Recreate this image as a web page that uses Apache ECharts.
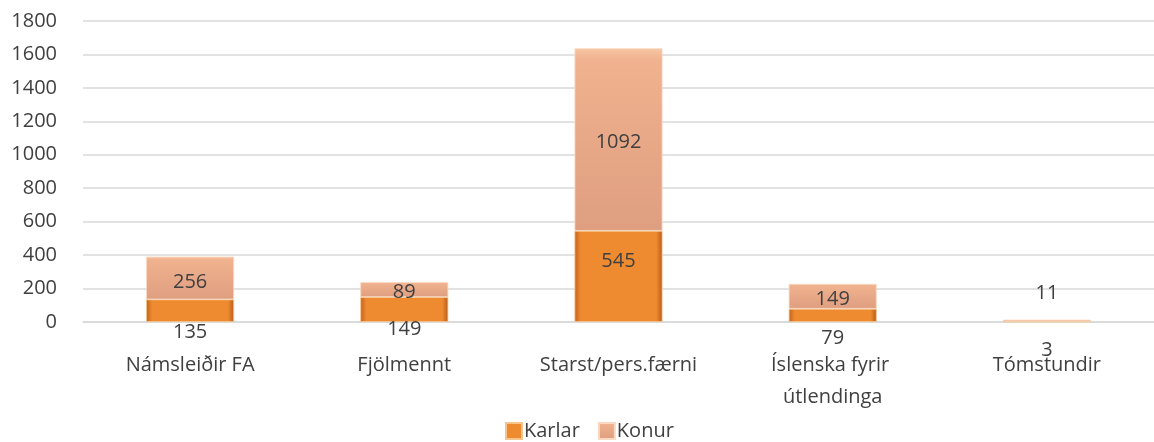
<!DOCTYPE html>
<html>
<head>
<meta charset="utf-8">
<script src="https://cdn.jsdelivr.net/npm/echarts@6/dist/echarts.min.js"></script>
<style>
  html, body { margin: 0; padding: 0; background: #fff; }
  #chart { width: 1154px; height: 442px; }
</style>
</head>
<body>
<div id="chart"></div>
<script>
  // data
  var categories = ['Námsleiðir FA', 'Fjölmennt', 'Starst/pers.færni', 'Íslenska fyrir útlendinga', 'Tómstundir'];
  var karlar = [135, 149, 545, 79, 3];
  var konur = [256, 89, 1092, 149, 11];
  var yTicks = [0, 200, 400, 600, 800, 1000, 1200, 1400, 1600, 1800];

  // where each value label sits (Excel moved the small ones out of the bar)
  var karlarLabelPos = [
    {position: 'bottom', distance: 0},
    {position: 'bottom', distance: -3},
    {position: 'inside', offset: [0, -15]},
    {position: 'bottom', distance: 6},
    {position: 'bottom', distance: 18}
  ];
  var konurLabelPos = [
    {position: 'inside', offset: [0, 4]},
    {position: 'inside', offset: [0, 3]},
    {position: 'inside', offset: [0, 3]},
    {position: 'inside', offset: [0, 3]},
    {position: 'top', distance: 16}
  ];

  var textColor = '#404040';
  var fontFamily = '"Open Sans", "DejaVu Sans", sans-serif';
  var fontSize = 20;

  var karlarFill = new echarts.graphic.LinearGradient(0, 0, 1, 0, [
    {offset: 0, color: '#C2621A'},
    {offset: 0.07, color: '#EE8B31'},
    {offset: 0.93, color: '#EE8B31'},
    {offset: 1, color: '#B65B16'}
  ]);
  var konurFill = new echarts.graphic.LinearGradient(0, 0, 0, 1, [
    {offset: 0, color: '#F6C7A6'},
    {offset: 0.06, color: '#F1B28F'},
    {offset: 1, color: '#DE9E80'}
  ]);

  var chart = echarts.init(document.getElementById('chart'));
  chart.setOption({
    animation: false,
    textStyle: {fontFamily: fontFamily},
    grid: {left: 83, top: 21, width: 1078, bottom: 120, containLabel: false},
    legend: {
      data: ['Karlar', 'Konur'],
      left: 500,
      top: 416,
      itemWidth: 16,
      itemHeight: 16,
      itemGap: 18,
      icon: 'rect',
      textStyle: {color: textColor, fontSize: fontSize, fontFamily: fontFamily, padding: [0, 0, 0, -3]}
    },
    xAxis: {
      type: 'category',
      data: categories,
      axisLine: {show: true, lineStyle: {color: '#D9D9D9', width: 1.5}},
      axisTick: {show: false},
      axisLabel: {
        color: textColor,
        fontSize: fontSize,
        fontFamily: fontFamily,
        margin: 27,
        lineHeight: 32,
        interval: 0,
        width: 200,
        overflow: 'break'
      }
    },
    yAxis: {
      type: 'value',
      min: yTicks[0],
      max: yTicks[yTicks.length - 1],
      interval: yTicks[1] - yTicks[0],
      axisLine: {show: false},
      axisTick: {show: false},
      splitLine: {lineStyle: {color: '#D9D9D9', width: 1.5}},
      axisLabel: {
        color: textColor,
        fontSize: fontSize,
        fontFamily: fontFamily,
        margin: 26,
        formatter: function (v) { return String(v); }
      }
    },
    series: [
      {
        name: 'Karlar',
        type: 'bar',
        stack: 'total',
        barWidth: 88,
        itemStyle: {color: karlarFill, borderColor: '#F7C48E', borderWidth: 0.8},
        label: {show: true, color: textColor, fontSize: fontSize, fontFamily: fontFamily},
        data: karlar.map(function (v, i) {
          return {value: v, label: karlarLabelPos[i]};
        })
      },
      {
        name: 'Konur',
        type: 'bar',
        stack: 'total',
        barWidth: 88,
        itemStyle: {color: konurFill, borderColor: '#F9D9C2', borderWidth: 0.8},
        label: {show: true, color: textColor, fontSize: fontSize, fontFamily: fontFamily},
        data: konur.map(function (v, i) {
          return {value: v, label: konurLabelPos[i]};
        })
      }
    ]
  });
</script>
</body>
</html>
